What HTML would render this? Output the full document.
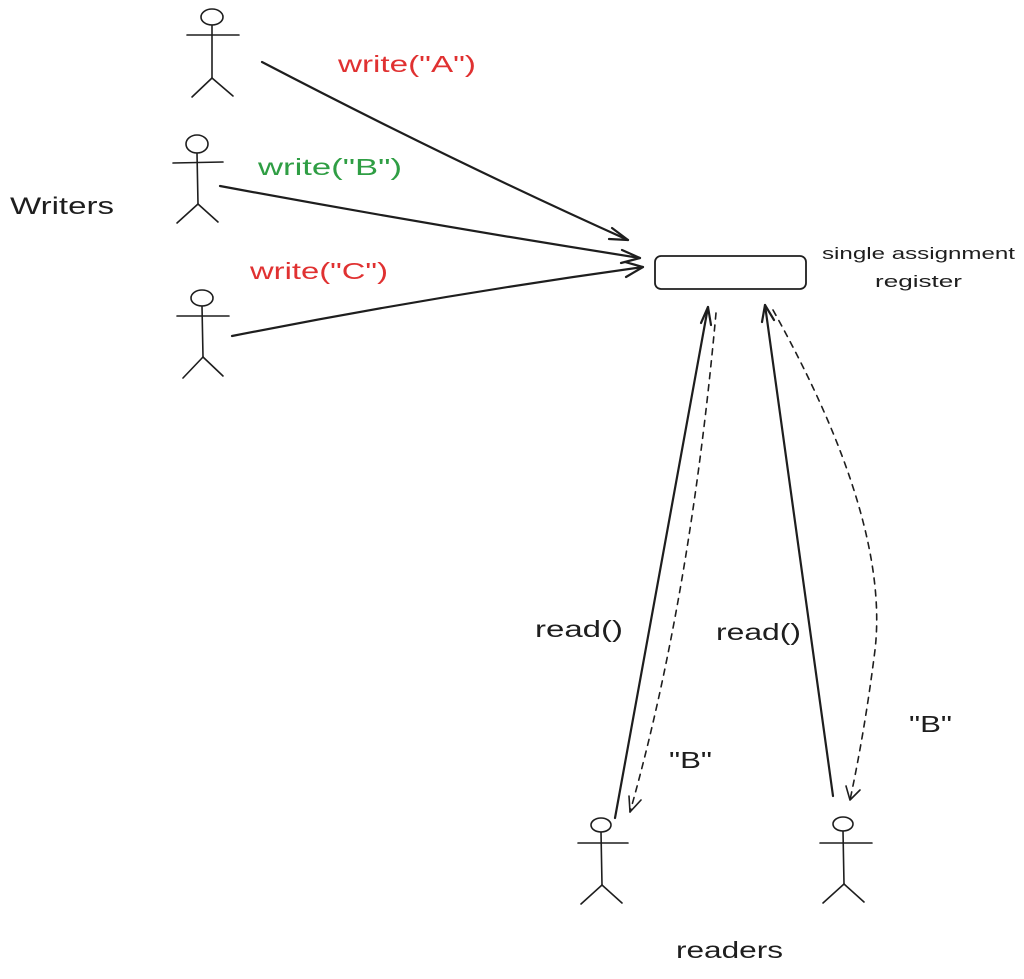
<!DOCTYPE html>
<html><head><meta charset="utf-8"><style>
html,body{margin:0;padding:0;background:#fff;}
svg{display:block;}
text{font-family:"Liberation Sans",sans-serif;}
</style></head><body>
<svg width="1024" height="979" viewBox="0 0 1024 979" xmlns="http://www.w3.org/2000/svg">
<rect width="1024" height="979" fill="#fff"/>
<g fill="none" stroke="#1e1e1e" stroke-width="1.6" stroke-linecap="round">
  <ellipse cx="212" cy="17" rx="11" ry="8"/>
  <line x1="187" y1="35" x2="239" y2="35"/>
  <line x1="212" y1="25" x2="212" y2="78"/>
  <line x1="212" y1="78" x2="192" y2="97"/><line x1="212" y1="78" x2="233" y2="96"/>
  <ellipse cx="197" cy="144" rx="11" ry="9"/>
  <line x1="173" y1="163" x2="223" y2="162"/>
  <line x1="197" y1="153" x2="198" y2="204"/>
  <line x1="198" y1="204" x2="177" y2="223"/><line x1="198" y1="204" x2="218" y2="222"/>
  <ellipse cx="202" cy="298" rx="11" ry="8"/>
  <line x1="177" y1="316" x2="229" y2="316"/>
  <line x1="202" y1="306" x2="203" y2="357"/>
  <line x1="203" y1="357" x2="183" y2="378"/><line x1="203" y1="357" x2="223" y2="376"/>
  <ellipse cx="601" cy="825" rx="10" ry="7"/>
  <line x1="578" y1="843" x2="628" y2="843"/>
  <line x1="601" y1="832" x2="602" y2="885"/>
  <line x1="602" y1="885" x2="581" y2="904"/><line x1="602" y1="885" x2="622" y2="903"/>
  <ellipse cx="843" cy="824" rx="10" ry="7"/>
  <line x1="820" y1="843" x2="872" y2="843"/>
  <line x1="843" y1="831" x2="844" y2="884"/>
  <line x1="844" y1="884" x2="823" y2="903"/><line x1="844" y1="884" x2="864" y2="902"/>
  <rect x="655" y="256" width="151" height="33" rx="6" stroke-width="1.8"/>
</g>
<g fill="none" stroke="#1e1e1e" stroke-width="2.2" stroke-linecap="round" stroke-linejoin="round">
  <path d="M262 62 Q450 160 628 240"/>
  <path d="M612 228 L628 240 L609 239"/>
  <path d="M220 186 Q430 225 640 258"/>
  <path d="M622 250 L640 258 L621 263"/>
  <path d="M232 336 Q440 295 643 267"/>
  <path d="M625 262 L643 267 L626 277"/>
  <path d="M615 818 L708 307"/>
  <path d="M701 323 L708 307 L711 325"/>
  <path d="M833 796 L765 305"/>
  <path d="M762 322 L765 305 L774 320"/>
</g>
<g fill="none" stroke="#1e1e1e" stroke-width="1.6" stroke-linecap="round" stroke-linejoin="round">
  <path d="M716 313 Q690 600 630 812" stroke-dasharray="6 6"/>
  <path d="M629 796 L630 812 L641 800"/>
  <path d="M773 310 Q890 520 875 650 Q865 730 850 800" stroke-dasharray="6 6"/>
  <path d="M846 786 L850 800 L860 790"/>
</g>
<g font-size="23" lengthAdjust="spacingAndGlyphs">
  <text x="10" y="214" fill="#1e1e1e" font-size="24" textLength="104" lengthAdjust="spacingAndGlyphs">Writers</text>
  <text x="338" y="72" fill="#e03131" textLength="138" lengthAdjust="spacingAndGlyphs">write("A")</text>
  <text x="258" y="175" fill="#2f9e44" textLength="144" lengthAdjust="spacingAndGlyphs">write("B")</text>
  <text x="250" y="279" fill="#e03131" textLength="138" lengthAdjust="spacingAndGlyphs">write("C")</text>
  <text x="535" y="637" fill="#1e1e1e" textLength="88" lengthAdjust="spacingAndGlyphs">read()</text>
  <text x="716" y="640" fill="#1e1e1e" textLength="85" lengthAdjust="spacingAndGlyphs">read()</text>
  <text x="669" y="768" fill="#1e1e1e" textLength="43" lengthAdjust="spacingAndGlyphs">"B"</text>
  <text x="909" y="732" fill="#1e1e1e" textLength="43" lengthAdjust="spacingAndGlyphs">"B"</text>
  <text x="676" y="958" fill="#1e1e1e" textLength="107" lengthAdjust="spacingAndGlyphs">readers</text>
</g>
<text x="822" y="259" font-size="17" fill="#1e1e1e" textLength="193" lengthAdjust="spacingAndGlyphs">single assignment</text>
<text x="875" y="287" font-size="17" fill="#1e1e1e" textLength="87" lengthAdjust="spacingAndGlyphs">register</text>
</svg>
</body></html>
